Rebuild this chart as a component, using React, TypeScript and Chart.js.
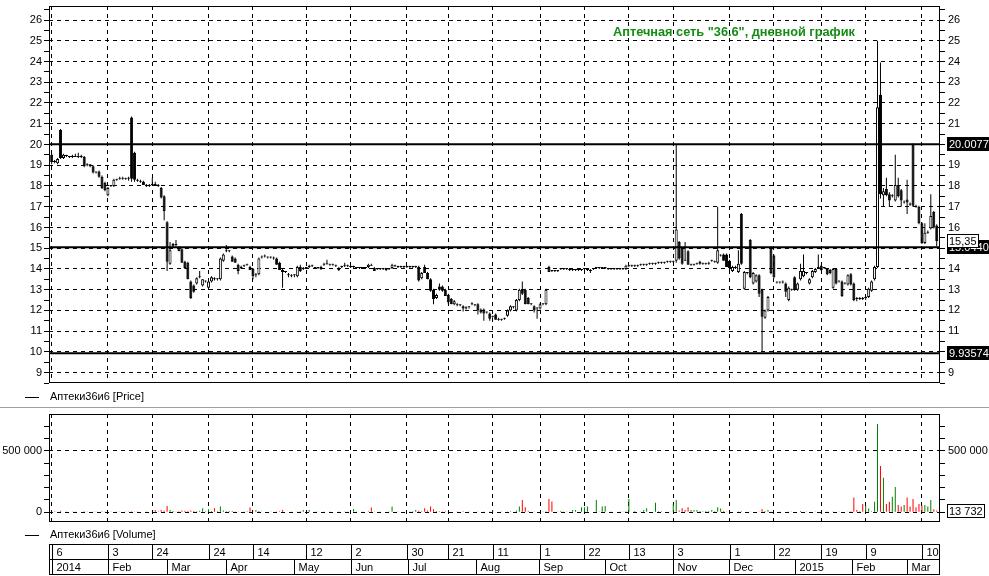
import React, { useEffect, useRef } from 'react';
import { Chart, registerables } from 'chart.js';

Chart.register(...registerables);

const FONT = "'Liberation Sans', Arial, sans-serif";
const title = 'Аптечная сеть "36.6", дневной график';
const seriesName = 'Аптеки36и6';

// Daily OHLC (trading days, 6 Jan 2014 .. mid Mar 2015)
const opens = [
  19.5, 19.15, 19.1, 20.7, 19.35, 19.45, 19.4, 19.4, 19.45, 19.4,
  19.45, 19.4, 19.0, 19.05, 18.95, 18.65, 18.7, 18.45, 18.15, 17.55,
  18.0, 18.0, 18.3, 18.35, 18.4, 18.35, 18.35, 21.3, 19.6, 18.3,
  18.25, 18.2, 18.05, 18.0, 18.05, 18.1, 18.05, 17.9, 17.5, 16.25,
  14.25, 15.1, 15.2, 15.05, 14.95, 14.35, 14.3, 13.4, 13.2, 13.3,
  13.6, 13.2, 13.4, 13.1, 13.4, 13.55, 13.5, 13.5, 14.4, 14.85,
  14.85, 14.6, 14.5, 14.2, 14.05, 14.15, 14.2, 14.1, 14.0, 13.7,
  13.75, 14.55, 14.6, 14.55, 14.55, 14.5, 14.5, 14.3, 13.95, 13.85,
  13.7, 13.65, 13.7, 13.65, 14.1, 14.0, 14.05, 14.1, 14.15, 14.05,
  14.05, 14.0, 14.2, 14.25, 14.2, 14.2, 14.15, 13.95, 14.1, 14.15,
  14.15, 14.1, 14.1, 14.05, 14.05, 14.05, 14.05, 14.1, 14.2, 14.05,
  14.0, 14.0, 14.0, 13.95, 14.0, 14.05, 14.15, 14.1, 14.1, 14.1,
  14.1, 14.1, 14.1, 14.1, 14.1, 13.55, 14.1, 13.8, 13.5, 13.0,
  12.6, 13.15, 13.15, 13.0, 12.75, 12.55, 12.3, 12.3, 12.25, 12.2,
  12.1, 12.15, 12.3, 12.25, 12.3, 12.05, 12.05, 11.9, 11.85, 11.7,
  11.8, 11.6, 11.55, 11.6, 11.75, 12.0, 12.15, 12.0, 12.5, 13.0,
  13.0, 12.6, 12.3, 12.2, 12.1, 12.1, 12.3, 12.3, 14.1, 13.95,
  13.9, 13.9, 14.0, 14.0, 14.0, 13.95, 13.95, 13.95, 13.95, 13.95,
  14.0, 13.95, 13.95, 14.0, 14.05, 14.05, 14.05, 14.05, 14.0, 14.0,
  14.0, 14.0, 14.0, 14.0, 14.0, 14.15, 14.15, 14.15, 14.15, 14.2,
  14.2, 14.2, 14.25, 14.25, 14.25, 14.3, 14.3, 14.3, 14.35, 14.35,
  14.35, 14.4, 15.3, 15.0, 14.45, 14.85, 14.2, 14.2, 14.25, 14.25,
  14.25, 14.25, 14.25, 14.4, 14.35, 14.3, 14.65, 14.7, 14.7, 14.4,
  13.9, 14.1, 13.85, 16.65, 13.05, 13.8, 15.4, 13.3, 13.4, 13.7,
  13.0, 11.65, 12.0, 15.05, 14.65, 13.35, 13.35, 13.35, 13.3, 12.5,
  13.0, 13.6, 13.0, 13.5, 13.65, 13.8, 13.3, 13.6, 13.85, 14.05,
  14.15, 14.05, 14.0, 13.95, 13.1, 14.0, 13.4, 13.4, 13.3, 13.25,
  13.75, 13.3, 12.6, 12.6, 12.6, 12.6, 12.65, 12.95, 13.5, 14.1,
  22.4, 17.55, 17.85, 17.6, 17.5, 17.3, 18.05, 17.8, 17.2, 17.35,
  17.15, 20.0, 17.05, 17.0, 16.2, 15.25, 15.75, 15.95, 16.75, 16.1,
];
const highs = [
  19.55, 19.25, 19.35, 20.75, 19.55, 19.5, 19.45, 19.5, 19.55, 19.6,
  19.5, 19.45, 19.1, 19.05, 19.0, 18.7, 18.75, 18.5, 18.2, 17.95,
  18.05, 18.35, 18.35, 18.45, 18.45, 18.4, 18.45, 21.35, 19.65, 18.35,
  18.3, 18.25, 18.1, 18.1, 18.4, 18.2, 18.1, 17.95, 17.55, 16.3,
  15.3, 15.25, 15.4, 15.1, 15.0, 14.4, 14.35, 13.45, 13.25, 13.6,
  13.9, 13.5, 13.45, 13.45, 13.65, 13.6, 13.55, 14.55, 14.75, 15.15,
  14.9, 14.65, 14.55, 14.25, 14.15, 14.2, 14.25, 14.15, 14.05, 13.8,
  14.55, 14.65, 14.7, 14.6, 14.6, 14.6, 14.55, 14.35, 14.0, 13.9,
  13.8, 13.75, 13.75, 14.15, 14.2, 14.1, 14.1, 14.2, 14.2, 14.1,
  14.1, 14.15, 14.3, 14.45, 14.25, 14.25, 14.2, 14.1, 14.15, 14.3,
  14.2, 14.15, 14.15, 14.1, 14.1, 14.1, 14.1, 14.25, 14.25, 14.1,
  14.05, 14.05, 14.05, 14.0, 14.05, 14.25, 14.2, 14.15, 14.15, 14.15,
  14.15, 14.15, 14.15, 14.15, 14.15, 13.85, 14.2, 13.85, 13.55, 13.05,
  12.8, 13.3, 13.2, 13.05, 12.8, 12.6, 12.5, 12.35, 12.3, 12.25,
  12.2, 12.2, 12.4, 12.3, 12.35, 12.1, 12.1, 11.95, 11.9, 11.75,
  11.85, 11.65, 11.6, 11.65, 12.05, 12.25, 12.2, 12.55, 13.05, 13.4,
  13.05, 12.65, 12.35, 12.25, 12.15, 12.35, 12.35, 13.05, 14.15, 13.95,
  13.95, 13.95, 14.05, 14.05, 14.05, 14.0, 14.0, 14.0, 14.0, 14.0,
  14.05, 14.0, 14.0, 14.05, 14.1, 14.1, 14.1, 14.1, 14.05, 14.05,
  14.05, 14.05, 14.05, 14.05, 14.2, 14.2, 14.2, 14.2, 14.2, 14.25,
  14.25, 14.25, 14.3, 14.3, 14.3, 14.35, 14.35, 14.35, 14.4, 14.4,
  14.4, 20.0, 15.35, 15.05, 15.3, 14.9, 14.25, 14.25, 14.3, 14.4,
  14.3, 14.3, 14.35, 14.45, 14.4, 17.0, 14.7, 14.75, 14.75, 14.45,
  14.15, 14.15, 14.9, 16.7, 13.9, 13.85, 15.45, 13.85, 13.75, 13.75,
  13.05, 12.05, 12.7, 15.1, 14.7, 13.4, 13.4, 13.45, 13.35, 13.15,
  13.05, 13.65, 13.35, 14.25, 14.7, 13.85, 13.55, 13.95, 14.05, 14.7,
  14.2, 14.1, 14.05, 14.0, 14.05, 14.05, 13.45, 13.45, 13.35, 13.75,
  13.8, 13.35, 12.65, 12.65, 12.65, 12.7, 13.1, 13.45, 14.15, 25.0,
  23.95, 17.9, 18.4, 17.7, 17.6, 19.5, 18.4, 17.85, 17.3, 18.3,
  17.2, 20.05, 17.1, 17.05, 16.25, 16.2, 15.85, 17.6, 16.8, 16.15,
];
const lows = [
  19.05, 19.1, 19.05, 19.3, 19.3, 19.4, 19.35, 19.35, 19.4, 19.35,
  19.35, 18.9, 18.95, 18.9, 18.6, 18.6, 18.4, 17.85, 17.75, 17.5,
  17.95, 17.95, 18.25, 18.3, 18.3, 18.3, 18.25, 18.2, 18.2, 18.2,
  18.15, 18.05, 17.95, 17.95, 18.0, 18.0, 17.95, 17.4, 16.35, 13.9,
  14.2, 15.05, 15.1, 14.85, 14.3, 14.0, 13.5, 12.55, 12.85, 13.25,
  13.55, 13.15, 13.35, 13.0, 13.35, 13.45, 13.45, 13.45, 14.35, 14.8,
  14.8, 14.35, 14.3, 13.75, 14.0, 14.1, 14.15, 13.95, 13.5, 13.6,
  13.7, 14.5, 14.55, 14.5, 14.5, 14.45, 14.2, 13.95, 13.1, 13.8,
  13.6, 13.6, 13.6, 13.6, 13.85, 13.95, 14.0, 14.05, 14.1, 14.0,
  14.0, 13.95, 14.15, 14.2, 14.15, 14.15, 14.1, 13.9, 14.05, 14.1,
  14.1, 14.05, 14.05, 14.0, 14.0, 14.0, 14.0, 14.05, 14.15, 13.9,
  13.95, 13.95, 13.95, 13.9, 13.95, 14.0, 14.1, 14.05, 14.05, 14.05,
  14.05, 14.05, 14.05, 14.05, 13.4, 13.5, 13.8, 13.5, 12.9, 12.3,
  12.55, 12.95, 12.9, 12.7, 12.3, 12.3, 12.25, 12.2, 12.2, 11.95,
  12.05, 12.1, 12.25, 12.2, 11.8, 11.85, 11.5, 11.85, 11.5, 11.65,
  11.55, 11.5, 11.5, 11.55, 11.7, 11.95, 12.1, 11.95, 12.45, 12.75,
  12.3, 12.3, 12.25, 11.9, 11.6, 12.05, 12.25, 12.25, 13.85, 13.85,
  13.85, 13.85, 13.95, 13.95, 13.95, 13.9, 13.9, 13.9, 13.9, 13.9,
  13.95, 13.9, 13.8, 13.95, 14.0, 14.0, 14.0, 14.0, 13.95, 13.95,
  13.95, 13.95, 13.95, 13.95, 13.95, 14.1, 14.1, 14.1, 14.1, 14.15,
  14.15, 14.15, 14.2, 14.2, 14.2, 14.25, 14.25, 14.25, 14.3, 14.3,
  14.3, 14.3, 14.45, 14.2, 14.4, 14.2, 14.15, 14.15, 14.2, 14.2,
  14.2, 14.2, 14.2, 14.35, 14.3, 14.25, 14.6, 14.4, 14.1, 13.95,
  13.85, 14.0, 13.8, 14.2, 13.0, 13.75, 13.55, 13.25, 13.35, 12.65,
  10.0, 11.6, 11.95, 13.75, 13.55, 13.3, 13.3, 13.3, 12.65, 12.45,
  12.95, 12.95, 12.95, 13.45, 13.6, 13.75, 13.25, 13.55, 13.8, 14.0,
  13.9, 14.0, 13.7, 13.75, 13.05, 13.25, 13.35, 12.65, 13.25, 13.2,
  13.2, 12.45, 12.45, 12.5, 12.5, 12.5, 12.6, 12.9, 13.45, 14.05,
  17.4, 17.0, 17.5, 17.0, 17.45, 17.25, 17.45, 17.0, 17.15, 16.65,
  17.05, 17.0, 16.95, 16.15, 15.2, 15.2, 15.7, 15.9, 15.95, 15.1,
];
const closes = [
  19.15, 19.2, 19.3, 19.35, 19.5, 19.45, 19.4, 19.45, 19.4, 19.45,
  19.4, 18.95, 19.05, 18.95, 18.65, 18.65, 18.45, 17.9, 17.8, 17.9,
  18.0, 18.3, 18.3, 18.4, 18.35, 18.35, 18.4, 18.35, 18.3, 18.25,
  18.2, 18.05, 18.0, 18.05, 18.1, 18.05, 18.0, 17.45, 16.8, 14.35,
  14.9, 15.2, 15.15, 14.85, 14.3, 14.05, 13.5, 12.6, 12.9, 13.55,
  13.6, 13.5, 13.4, 13.4, 13.6, 13.5, 13.5, 14.5, 14.7, 14.9,
  14.85, 14.35, 14.3, 13.9, 14.1, 14.2, 14.2, 13.95, 13.65, 13.75,
  14.5, 14.6, 14.6, 14.55, 14.55, 14.55, 14.2, 13.95, 13.85, 13.85,
  13.75, 13.7, 13.7, 14.1, 13.9, 14.05, 14.05, 14.15, 14.15, 14.05,
  14.05, 14.1, 14.25, 14.25, 14.2, 14.2, 14.15, 14.05, 14.1, 14.15,
  14.15, 14.1, 14.1, 14.05, 14.05, 14.05, 14.05, 14.2, 14.15, 13.9,
  14.0, 14.0, 14.0, 13.95, 14.0, 14.2, 14.15, 14.1, 14.1, 14.1,
  14.1, 14.1, 14.1, 14.1, 13.45, 13.8, 13.8, 13.5, 12.95, 12.55,
  12.75, 13.0, 12.95, 12.7, 12.4, 12.3, 12.45, 12.25, 12.25, 12.1,
  12.15, 12.15, 12.3, 12.25, 12.0, 11.9, 11.85, 11.9, 11.6, 11.7,
  11.55, 11.55, 11.55, 11.6, 12.0, 12.2, 12.15, 12.5, 13.0, 12.8,
  12.3, 12.3, 12.3, 12.0, 12.1, 12.3, 12.3, 13.0, 13.85, 13.9,
  13.9, 13.9, 14.0, 14.0, 14.0, 13.95, 13.95, 13.95, 13.95, 13.95,
  14.0, 13.95, 13.9, 14.0, 14.05, 14.05, 14.05, 14.05, 14.0, 14.0,
  14.0, 14.0, 14.0, 14.0, 14.15, 14.15, 14.15, 14.15, 14.15, 14.2,
  14.2, 14.2, 14.25, 14.25, 14.25, 14.3, 14.3, 14.3, 14.35, 14.35,
  14.38, 15.9, 14.5, 14.25, 14.4, 14.2, 14.2, 14.2, 14.25, 14.35,
  14.25, 14.25, 14.3, 14.4, 14.35, 14.9, 14.65, 14.4, 14.1, 14.05,
  14.1, 14.05, 14.25, 14.25, 13.85, 13.8, 13.6, 13.8, 13.7, 12.8,
  11.7, 12.0, 12.65, 13.8, 13.6, 13.35, 13.35, 13.35, 12.9, 13.1,
  13.0, 13.0, 13.3, 13.9, 13.9, 13.8, 13.5, 13.9, 14.0, 14.05,
  13.95, 14.05, 13.75, 13.8, 14.0, 13.3, 13.4, 12.7, 13.3, 13.7,
  13.25, 12.5, 12.55, 12.55, 12.55, 12.65, 13.05, 13.4, 14.1, 21.8,
  17.6, 17.75, 17.55, 17.3, 17.55, 18.05, 17.5, 17.3, 17.25, 17.2,
  17.1, 17.05, 17.0, 16.2, 15.25, 15.75, 15.8, 16.55, 16.0, 15.35,
];
const volumes = [
  6000, 9000, 4000, 12000, 5000, 3000, 4000, 6000, 3000, 5000,
  4000, 8000, 3000, 4000, 7000, 3000, 5000, 9000, 6000, 4000,
  3000, 5000, 2000, 3000, 4000, 2000, 3000, 9000, 6000, 3000,
  4000, 5000, 3000, 4000, 6000, 19000, 8000, 19000, 12000, 51000,
  19000, 11000, 7000, 9000, 14000, 12000, 10000, 15000, 11000, 9000,
  12000, 32000, 8000, 24000, 10000, 32000, 9000, 46000, 14000, 8000,
  11000, 11000, 6000, 7000, 5000, 6000, 9000, 38000, 8000, 19000,
  10000, 6000, 4000, 5000, 3000, 4000, 6000, 8000, 19000, 4000,
  5000, 3000, 4000, 6000, 8000, 19000, 5000, 19000, 4000, 6000,
  3000, 5000, 7000, 4000, 3000, 5000, 4000, 3000, 4000, 6000,
  3000, 5000, 27000, 6000, 4000, 3000, 5000, 9000, 38000, 7000,
  4000, 3000, 5000, 4000, 6000, 46000, 5000, 3000, 4000, 5000,
  4000, 6000, 8000, 19000, 12000, 9000, 32000, 14000, 46000, 24000,
  11000, 8000, 6000, 9000, 7000, 5000, 4000, 6000, 5000, 8000,
  4000, 3000, 5000, 4000, 6000, 5000, 7000, 4000, 6000, 19000,
  5000, 4000, 3000, 4000, 6000, 8000, 5000, 14000, 46000, 100000,
  40000, 11000, 5000, 6000, 4000, 5000, 6000, 9000, 108000, 87000,
  4000, 3000, 11000, 6000, 3000, 4000, 19000, 19000, 5000, 40000,
  40000, 46000, 5000, 4000, 100000, 6000, 46000, 51000, 4000, 3000,
  5000, 4000, 3000, 6000, 8000, 108000, 5000, 11000, 4000, 6000,
  19000, 32000, 5000, 4000, 78000, 8000, 8000, 4000, 5000, 6000,
  65000, 100000, 15000, 32000, 19000, 40000, 19000, 19000, 19000, 11000,
  8000, 11000, 11000, 19000, 8000, 40000, 30000, 11000, 6000, 5000,
  4000, 5000, 6000, 8000, 5000, 4000, 6000, 5000, 4000, 7000,
  24000, 11000, 19000, 6000, 5000, 4000, 3000, 5000, 4000, 6000,
  3000, 4000, 5000, 11000, 4000, 3000, 4000, 5000, 3000, 4000,
  5000, 4000, 3000, 5000, 6000, 4000, 3000, 5000, 4000, 6000,
  8000, 119000, 19000, 8000, 67000, 51000, 30000, 9000, 85000, 717000,
  376000, 281000, 68000, 85000, 127000, 205000, 60000, 46000, 60000, 119000,
  46000, 108000, 41000, 68000, 57000, 60000, 46000, 100000, 24000, 13732,
];

// Date axis: weekly grid dates (bar index) and month starts
const weekTickIndex = [0, 19, 34, 53, 68, 86, 101, 120, 134, 149, 165, 180, 195, 210, 229, 244, 260, 275, 294];
const weekLabels = ['6', '3', '24', '24', '14', '12', '2', '30', '21', '11', '1', '22', '13', '3', '1', '22', '19', '9', '10'];
const monthStartIndex = [0, 19, 39, 59, 82, 101, 120.5, 143.3, 164.7, 186.9, 209.8, 228.9, 251.1, 270.3, 289.1];
const monthLabels = ['2014', 'Feb', 'Mar', 'Apr', 'May', 'Jun', 'Jul', 'Aug', 'Sep', 'Oct', 'Nov', 'Dec', '2015', 'Feb', 'Mar'];

// Horizontal levels
const priceLevels = [20.0077, 15.044, 9.93574];
const priceLevelLabels = ['20.0077', '15.0440', '9.93574'];

// Axis ticks
const priceTickValues = [8.5, 9, 9.5, 10, 10.5, 11, 11.5, 12, 12.5, 13, 13.5, 14, 14.5, 15, 15.5, 16, 16.5, 17, 17.5, 18, 18.5, 19, 19.5, 20, 20.5, 21, 21.5, 22, 22.5, 23, 23.5, 24, 24.5, 25, 25.5, 26, 26.5];
const priceLabelValues = [9, 10, 11, 12, 13, 14, 15, 16, 17, 18, 19, 20, 21, 22, 23, 24, 25, 26];
const volumeTickValues = [0, 100000, 200000, 300000, 400000, 500000, 600000, 700000];
const volumeLeftLabels = [0, 500000];
const volumeRightLabels = [500000];

const X_MIN = -0.9;
const X_MAX = 300.11;
const PRICE_MIN = 8.504;
const PRICE_MAX = 26.675;
const VOL_MIN = -79000;
const VOL_MAX = 798000;

const TITLE_LEFT = 613;
const TITLE_WIDTH = 242;

const fmtVol = (v: number) => String(Math.round(v)).replace(/\B(?=(\d{3})+(?!\d))/g, ' ');

function tagBox(ctx: CanvasRenderingContext2D, text: string, x: number, y: number, fill: string, fg: string) {
  ctx.font = `11px ${FONT}`;
  const w = Math.ceil(ctx.measureText(text).width) + 4;
  const h = 14;
  const top = Math.round(y - h / 2);
  ctx.fillStyle = fill;
  ctx.fillRect(x, top, w, h);
  ctx.strokeStyle = '#000';
  ctx.lineWidth = 1;
  ctx.strokeRect(x + 0.5, top + 0.5, w - 1, h - 1);
  ctx.fillStyle = fg;
  ctx.textAlign = 'left';
  ctx.textBaseline = 'middle';
  ctx.fillText(text, x + 2, top + h / 2 + 0.5);
}

function legendLine(ctx: CanvasRenderingContext2D, text: string, y: number) {
  ctx.strokeStyle = '#000';
  ctx.lineWidth = 1;
  ctx.beginPath();
  ctx.moveTo(25, y + 0.5);
  ctx.lineTo(39, y + 0.5);
  ctx.stroke();
  ctx.fillStyle = '#000';
  ctx.font = `11px ${FONT}`;
  ctx.textAlign = 'left';
  ctx.textBaseline = 'middle';
  ctx.fillText(text, 50, y);
}

const xScaleCfg = () => ({
  type: 'linear',
  min: X_MIN,
  max: X_MAX,
  offset: false,
  afterBuildTicks: (s: any) => { s.ticks = weekTickIndex.map((v) => ({ value: v })); },
  afterFit: (s: any) => { s.height = 0; s.paddingLeft = 0; s.paddingRight = 0; },
  ticks: { display: false },
  grid: { offset: false, color: '#000', lineWidth: 1, drawTicks: false },
  border: { display: false, dash: [4, 4] },
});

const yScaleCfg = (pos: string, min: number, max: number, tickVals: number[], labelVals: number[], gridVals: number[], onArea: boolean, fmt: (v: number) => string, pad: number) => ({
  type: 'linear',
  position: pos,
  min,
  max,
  beginAtZero: false,
  afterBuildTicks: (s: any) => { s.ticks = tickVals.map((v) => ({ value: v })); },
  afterFit: (s: any) => { s.width = 49; s.paddingTop = 0; s.paddingBottom = 0; },
  ticks: {
    autoSkip: false,
    padding: pad,
    color: '#000',
    font: { family: FONT, size: 11 },
    callback: (v: number) => (labelVals.includes(v) ? fmt(v) : ''),
  },
  grid: {
    drawOnChartArea: onArea,
    color: (c: any) => (c.tick && gridVals.includes(c.tick.value) ? '#000' : 'rgba(0,0,0,0)'),
    tickColor: '#000',
    tickLength: 5,
    lineWidth: 1,
  },
  border: { display: false, dash: [4, 4] },
});

const pricePlugin = {
  id: 'priceDecor',
  afterDraw(chart: any) {
    const { ctx, chartArea: a } = chart;
    const ys = chart.scales.y;
    ctx.save();
    ctx.strokeStyle = '#000';
    ctx.lineWidth = 1;
    ctx.strokeRect(a.left + 0.5, a.top + 0.5, a.right - a.left - 1, a.bottom - a.top - 1);
    // title, sized to the reference width
    ctx.font = `bold 12px ${FONT}`;
    const w12 = ctx.measureText(title).width;
    const size = Math.max(10, Math.min(14, 12 * TITLE_WIDTH / w12));
    ctx.font = `bold ${size.toFixed(2)}px ${FONT}`;
    ctx.fillStyle = '#148c14';
    ctx.textAlign = 'left';
    ctx.textBaseline = 'middle';
    ctx.fillText(title, TITLE_LEFT, 32);
    // legend
    legendLine(ctx, `${seriesName} [Price]`, 397);
    // level tags
    priceLevels.forEach((lv, k) => {
      tagBox(ctx, priceLevelLabels[k], a.right + 7, ys.getPixelForValue(lv), '#000', '#fff');
    });
    const last = closes[closes.length - 1];
    tagBox(ctx, last.toFixed(2).replace('.', ','), a.right + 7, ys.getPixelForValue(last), '#fff', '#000');
    ctx.restore();
  },
};

const volumePlugin = {
  id: 'volumeDecor',
  afterDraw(chart: any) {
    const { ctx, chartArea: a } = chart;
    const xs = chart.scales.x;
    const ys = chart.scales.y;
    ctx.save();
    // separator between panels
    ctx.fillStyle = '#a0a0a0';
    ctx.fillRect(0, 0, chart.width, 1);
    // frame
    ctx.strokeStyle = '#000';
    ctx.lineWidth = 1;
    ctx.strokeRect(a.left + 0.5, a.top + 0.5, a.right - a.left - 1, a.bottom - a.top - 1);
    // last volume tag
    const lastV = volumes[volumes.length - 1];
    tagBox(ctx, fmtVol(lastV), a.right + 7, ys.getPixelForValue(lastV), '#fff', '#000');
    // legend
    legendLine(ctx, `${seriesName} [Volume]`, 128);
    // date axis
    const top = 137, mid = 152, bot = 167;
    ctx.strokeStyle = '#000';
    ctx.lineWidth = 1;
    ctx.strokeRect(a.left + 0.5, top + 0.5, a.right - a.left - 1, bot - top);
    ctx.beginPath();
    ctx.moveTo(a.left, mid + 0.5);
    ctx.lineTo(a.right, mid + 0.5);
    ctx.stroke();
    ctx.font = `11px ${FONT}`;
    ctx.fillStyle = '#000';
    ctx.textAlign = 'left';
    ctx.textBaseline = 'middle';
    weekTickIndex.forEach((v, k) => {
      const x = Math.round(xs.getPixelForValue(v)) + 0.5;
      ctx.beginPath();
      ctx.moveTo(x, top);
      ctx.lineTo(x, mid);
      ctx.stroke();
      ctx.fillText(weekLabels[k], x + 4, (top + mid) / 2 + 1);
    });
    monthStartIndex.forEach((v, k) => {
      const x = Math.round(xs.getPixelForValue(v)) + 0.5;
      ctx.beginPath();
      ctx.moveTo(x, mid);
      ctx.lineTo(x, bot);
      ctx.stroke();
      ctx.fillText(monthLabels[k], x + 4, (mid + bot) / 2 + 1);
    });
    ctx.restore();
  },
};

function priceConfig(): any {
  const up = closes.map((c, i) => c >= opens[i]);
  return {
    type: 'bar',
    data: {
      datasets: [
        ...priceLevels.map((lv) => ({
          type: 'line',
          data: [{ x: X_MIN, y: lv }, { x: X_MAX, y: lv }],
          borderColor: '#000',
          borderWidth: 2,
          pointRadius: 0,
          order: 0,
        })),
        {
          type: 'bar',
          data: opens.map((o, i) => ({ x: i, y: [o, closes[i]] })),
          backgroundColor: up.map((u) => (u ? '#fff' : '#000')),
          borderColor: '#000',
          borderWidth: 1,
          borderSkipped: false,
          barThickness: 3,
          grouped: false,
          minBarLength: 1,
          inflateAmount: 0,
          order: 1,
        },
        {
          type: 'bar',
          data: highs.map((h, i) => ({ x: i, y: [lows[i], h] })),
          backgroundColor: '#000',
          borderWidth: 0,
          barThickness: 1,
          grouped: false,
          minBarLength: 1,
          inflateAmount: 0,
          order: 2,
        },
      ],
    },
    options: {
      responsive: false,
      animation: false,
      events: [],
      layout: { padding: { top: 6, bottom: 24, left: 0, right: 0 } },
      plugins: { legend: { display: false }, tooltip: { enabled: false } },
      scales: {
        x: xScaleCfg(),
        y: yScaleCfg('left', PRICE_MIN, PRICE_MAX, priceTickValues, priceLabelValues, priceLabelValues, true, (v) => String(v), 2),
        y2: yScaleCfg('right', PRICE_MIN, PRICE_MAX, priceTickValues, priceLabelValues, priceLabelValues, false, (v) => String(v), 3),
      },
    },
    plugins: [pricePlugin],
  };
}

function volumeConfig(): any {
  const colors = closes.map((c, i) => (c >= opens[i] ? '#008000' : '#ff0000'));
  return {
    type: 'bar',
    data: {
      datasets: [
        {
          data: volumes.map((v, i) => ({ x: i, y: v })),
          backgroundColor: colors,
          borderWidth: 0,
          barThickness: 1,
          grouped: false,
          inflateAmount: 0,
        },
      ],
    },
    options: {
      responsive: false,
      animation: false,
      events: [],
      layout: { padding: { top: 7, bottom: 54, left: 0, right: 0 } },
      plugins: { legend: { display: false }, tooltip: { enabled: false } },
      scales: {
        x: xScaleCfg(),
        y: yScaleCfg('left', VOL_MIN, VOL_MAX, volumeTickValues, volumeLeftLabels, volumeLeftLabels, true, fmtVol, 2),
        y2: yScaleCfg('right', VOL_MIN, VOL_MAX, volumeTickValues, volumeRightLabels, volumeLeftLabels, false, fmtVol, 3),
      },
    },
    plugins: [volumePlugin],
  };
}

export default function App() {
  const priceRef = useRef<HTMLCanvasElement>(null);
  const volRef = useRef<HTMLCanvasElement>(null);
  useEffect(() => {
    const pc = new Chart(priceRef.current as HTMLCanvasElement, priceConfig());
    const vc = new Chart(volRef.current as HTMLCanvasElement, volumeConfig());
    return () => {
      pc.destroy();
      vc.destroy();
    };
  }, []);
  return (
    <div style={{ position: 'absolute', left: 0, top: 0, width: 989, height: 576, background: '#fff' }}>
      <canvas ref={priceRef} width={989} height={407} style={{ position: 'absolute', left: 0, top: 0, width: 989, height: 407 }} />
      <canvas ref={volRef} width={989} height={169} style={{ position: 'absolute', left: 0, top: 407, width: 989, height: 169 }} />
    </div>
  );
}
